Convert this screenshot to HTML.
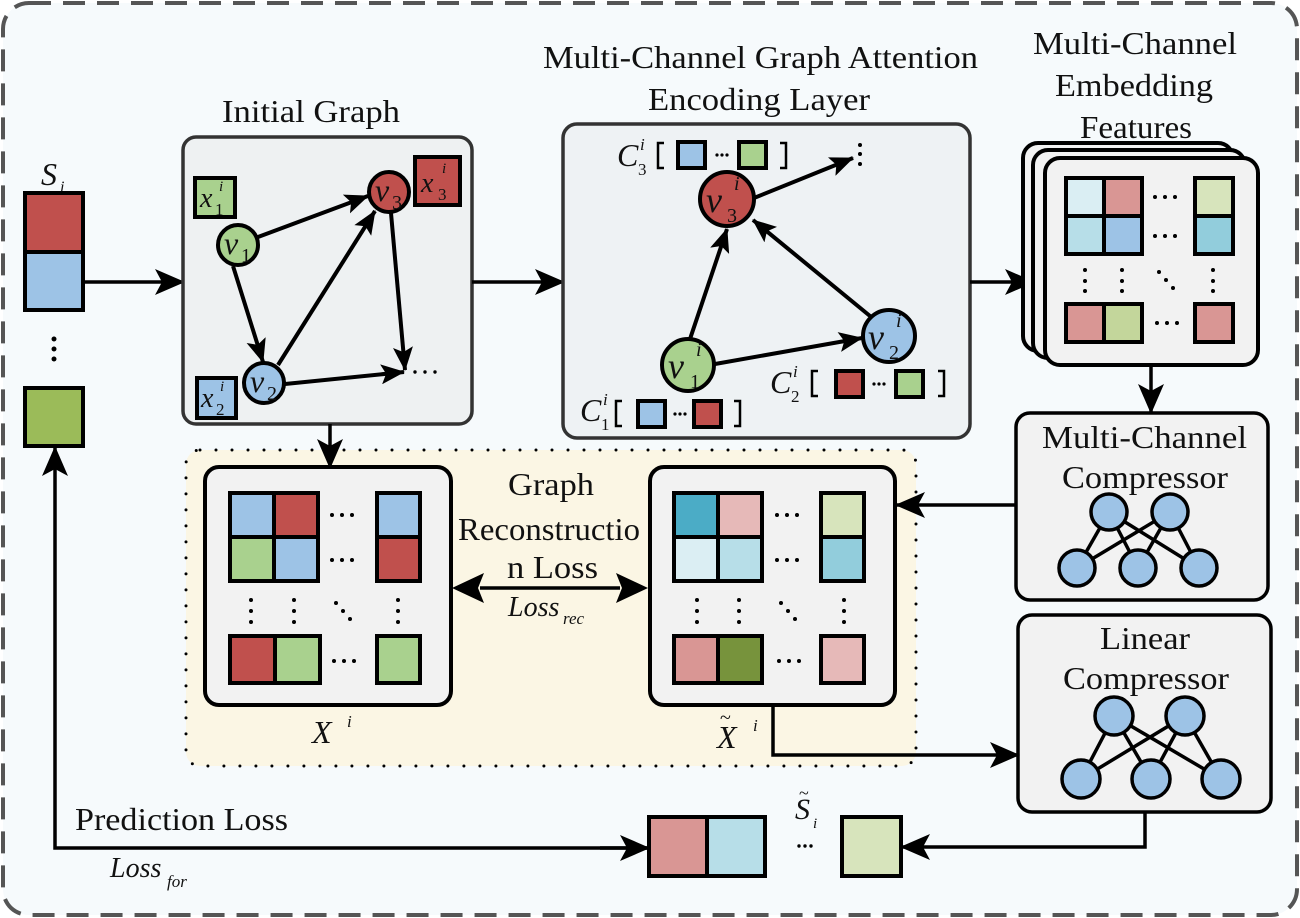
<!DOCTYPE html>
<html><head><meta charset="utf-8"><style>
html,body{margin:0;padding:0;background:#fff}
svg{display:block}
text{font-family:"Liberation Serif",serif;fill:#111}
.t{font-size:32px}
.m{font-style:italic}
</style></head><body>
<svg width="1300" height="918" viewBox="0 0 1300 918" xmlns="http://www.w3.org/2000/svg">
<defs>
<marker id="a" markerUnits="userSpaceOnUse" markerWidth="30" markerHeight="26" refX="28" refY="13" orient="auto">
<path d="M0,0 L30,13 L0,26 L7,13 z" fill="#000"/>
</marker>
<marker id="s" markerUnits="userSpaceOnUse" markerWidth="24" markerHeight="20" refX="23" refY="10" orient="auto">
<path d="M0,0 L24,10 L0,20 L5,10 z" fill="#000"/>
</marker>
</defs>
<rect x="3" y="3" width="1294" height="912" rx="26" fill="#f6fafc" stroke="#555" stroke-width="4" stroke-dasharray="22,12"/>

<!-- titles -->
<text class="t" x="222" y="122" textLength="178" lengthAdjust="spacingAndGlyphs">Initial Graph</text>
<text class="t" x="543" y="68" textLength="435" lengthAdjust="spacingAndGlyphs">Multi-Channel Graph Attention</text>
<text class="t" x="648" y="110" textLength="222" lengthAdjust="spacingAndGlyphs">Encoding Layer</text>
<text class="t" x="1033" y="54" textLength="204" lengthAdjust="spacingAndGlyphs">Multi-Channel</text>
<text class="t" x="1055" y="96" textLength="158" lengthAdjust="spacingAndGlyphs">Embedding</text>
<text class="t" x="1080" y="138" textLength="112" lengthAdjust="spacingAndGlyphs">Features</text>

<!-- S_i -->
<text class="m" x="41" y="185" font-size="32">S</text><text class="m" x="60" y="192" font-size="16">i</text>
<g stroke="#000" stroke-width="4">
<rect x="25" y="193" width="58" height="59" fill="#c0504d"/>
<rect x="25" y="252" width="58" height="58" fill="#9dc3e6"/>
<rect x="25" y="388" width="58" height="58" fill="#9bbb59"/>
</g>
<g fill="#000"><circle cx="54" cy="339" r="2.5"/><circle cx="54" cy="349" r="2.5"/><circle cx="54" cy="359" r="2.5"/></g>
<line x1="83" y1="282" x2="183" y2="282" stroke="#000" stroke-width="3.5" marker-end="url(#a)"/>

<!-- dotted region -->
<rect x="186" y="450" width="730" height="316" rx="14" fill="#fbf6e4" stroke="#000" stroke-width="3" stroke-dasharray="0,16" stroke-linecap="round"/>

<!-- Initial graph -->
<rect x="183" y="137" width="289" height="287" rx="13" fill="#eef1f2" stroke="#333" stroke-width="3.5"/>
<g stroke="#000" stroke-width="4">
<rect x="195" y="178" width="40" height="39" fill="#a9d18e"/>
<rect x="415" y="157" width="45" height="48" fill="#c0504d"/>
<rect x="197" y="378" width="39" height="40" fill="#9dc3e6"/>
</g>
<g stroke="#000" stroke-width="4" fill="none">
<line x1="258" y1="237" x2="368" y2="196" marker-end="url(#s)"/>
<line x1="233" y1="266" x2="263" y2="362" marker-end="url(#s)"/>
<line x1="278" y1="365" x2="375" y2="211" marker-end="url(#s)"/>
<line x1="391" y1="213" x2="405" y2="370" marker-end="url(#s)"/>
<line x1="285" y1="384" x2="404" y2="372" marker-end="url(#s)"/>
</g>
<g stroke="#000" stroke-width="4">
<circle cx="238" cy="245" r="20" fill="#a9d18e"/>
<circle cx="389" cy="192" r="20" fill="#c0504d"/>
<circle cx="264" cy="383" r="20" fill="#9dc3e6"/>
</g>
<g class="m" font-size="32">
<text x="224" y="254">v</text><text x="241" y="262" font-size="20" font-style="normal">1</text>
<text x="375" y="201">v</text><text x="392" y="209" font-size="20" font-style="normal">3</text>
<text x="250" y="392">v</text><text x="267" y="400" font-size="20" font-style="normal">2</text>
<text x="200" y="207" font-size="28">x</text><text x="219" y="191" font-size="15">i</text><text x="215" y="215" font-size="17" font-style="normal">1</text>
<text x="421" y="192" font-size="28">x</text><text x="442" y="173" font-size="15">i</text><text x="438" y="200" font-size="17" font-style="normal">3</text>
<text x="201" y="407" font-size="28">x</text><text x="220" y="391" font-size="15">i</text><text x="216" y="415" font-size="17" font-style="normal">2</text>
</g>
<g fill="#000"><circle cx="415" cy="372" r="1.7"/><circle cx="425" cy="372" r="1.7"/><circle cx="435" cy="372" r="1.7"/></g>
<line x1="472" y1="282" x2="563" y2="282" stroke="#000" stroke-width="3.5" marker-end="url(#a)"/>

<!-- Encoding layer -->
<rect x="563" y="124" width="407" height="314" rx="14" fill="#eef2f4" stroke="#333" stroke-width="3.5"/>
<g stroke="#000" stroke-width="4" fill="none">
<line x1="754" y1="198" x2="853" y2="158" marker-end="url(#s)"/>
<line x1="690" y1="339" x2="727" y2="229" marker-end="url(#s)"/>
<line x1="870" y1="316" x2="753" y2="220" marker-end="url(#s)"/>
<line x1="715" y1="364" x2="862" y2="338" marker-end="url(#s)"/>
</g>
<g stroke="#000" stroke-width="4">
<circle cx="727" cy="199" r="27" fill="#c0504d"/>
<circle cx="688" cy="365" r="26" fill="#a9d18e"/>
<circle cx="889" cy="336" r="26" fill="#9dc3e6"/>
</g>
<g fill="#000"><circle cx="860" cy="145" r="2"/><circle cx="860" cy="154" r="2"/><circle cx="860" cy="164" r="2"/></g>
<g class="m" font-size="36">
<text x="706" y="212">v</text><text x="734" y="190" font-size="20">i</text><text x="727" y="222" font-size="20" font-style="normal">3</text>
<text x="668" y="378">v</text><text x="696" y="356" font-size="20">i</text><text x="690" y="388" font-size="20" font-style="normal">1</text>
<text x="868" y="349">v</text><text x="896" y="327" font-size="20">i</text><text x="889" y="359" font-size="20" font-style="normal">2</text>
<text x="617" y="166" font-size="32">C</text><text x="640" y="150" font-size="17">i</text><text x="638" y="175" font-size="17" font-style="normal">3</text>
<text x="770" y="393" font-size="32">C</text><text x="793" y="377" font-size="17">i</text><text x="791" y="402" font-size="17" font-style="normal">2</text>
<text x="580" y="421" font-size="32">C</text><text x="603" y="405" font-size="17">i</text><text x="601" y="430" font-size="17" font-style="normal">1</text>
</g>
<g stroke="#000" stroke-width="2.5" fill="none">
<path d="M664,143 h-6 v25 h6"/><path d="M780,143 h6 v25 h-6"/>
<path d="M818,371 h-6 v25 h6"/><path d="M938,371 h6 v25 h-6"/>
<path d="M622,401 h-6 v25 h6"/><path d="M734,401 h6 v25 h-6"/>
</g>
<g stroke="#000" stroke-width="4">
<rect x="678" y="142" width="27" height="26" fill="#9dc3e6"/><rect x="739" y="142" width="27" height="26" fill="#a9d18e"/>
<rect x="836" y="371" width="27" height="26" fill="#c0504d"/><rect x="896" y="371" width="27" height="26" fill="#a9d18e"/>
<rect x="638" y="401" width="27" height="26" fill="#9dc3e6"/><rect x="694" y="401" width="27" height="26" fill="#c0504d"/>
</g>
<g fill="#000"><circle cx="717" cy="155" r="1.6"/><circle cx="722" cy="155" r="1.6"/><circle cx="727" cy="155" r="1.6"/>
<circle cx="874" cy="384" r="1.6"/><circle cx="879" cy="384" r="1.6"/><circle cx="884" cy="384" r="1.6"/>
<circle cx="675" cy="414" r="1.6"/><circle cx="680" cy="414" r="1.6"/><circle cx="685" cy="414" r="1.6"/></g>
<line x1="970" y1="282" x2="1033" y2="282" stroke="#000" stroke-width="3.5" marker-end="url(#a)"/>

<!-- Features stack -->
<g stroke="#000" stroke-width="4" fill="#f2f2f2">
<rect x="1023" y="143" width="210" height="208" rx="15"/>
<rect x="1033" y="150" width="212" height="208" rx="15"/>
<rect x="1045" y="158" width="213" height="207" rx="15"/>
</g>
<g stroke="#000" stroke-width="4">
<rect x="1066" y="178" width="38" height="38" fill="#daeef3"/><rect x="1104" y="178" width="38" height="38" fill="#d99694"/>
<rect x="1066" y="216" width="38" height="38" fill="#b7dee8"/><rect x="1104" y="216" width="38" height="38" fill="#9dc3e6"/>
<rect x="1195" y="178" width="38" height="38" fill="#d7e4bc"/><rect x="1195" y="216" width="38" height="38" fill="#92cddc"/>
<rect x="1066" y="304" width="38" height="38" fill="#d99694"/><rect x="1104" y="304" width="38" height="38" fill="#c3d69b"/>
<rect x="1195" y="304" width="38" height="38" fill="#d99694"/>
</g>
<g fill="#000">
<circle cx="1155" cy="197" r="2"/><circle cx="1165" cy="197" r="2"/><circle cx="1175" cy="197" r="2"/>
<circle cx="1155" cy="236" r="2"/><circle cx="1165" cy="236" r="2"/><circle cx="1175" cy="236" r="2"/>
<circle cx="1157" cy="323" r="2"/><circle cx="1167" cy="323" r="2"/><circle cx="1177" cy="323" r="2"/>
<circle cx="1085" cy="270" r="2"/><circle cx="1085" cy="281" r="2"/><circle cx="1085" cy="291" r="2"/>
<circle cx="1122" cy="270" r="2"/><circle cx="1122" cy="281" r="2"/><circle cx="1122" cy="291" r="2"/>
<circle cx="1213" cy="270" r="2"/><circle cx="1213" cy="281" r="2"/><circle cx="1213" cy="291" r="2"/>
<circle cx="1159" cy="272" r="2"/><circle cx="1166" cy="280" r="2"/><circle cx="1173" cy="288" r="2"/>
</g>
<line x1="1151" y1="365" x2="1151" y2="412" stroke="#000" stroke-width="3.5" marker-end="url(#a)"/>

<!-- Compressors -->
<rect x="1016" y="413" width="252" height="187" rx="14" fill="#f2f2f2" stroke="#000" stroke-width="3.5"/>
<text class="t" x="1042" y="448" textLength="205" lengthAdjust="spacingAndGlyphs">Multi-Channel</text>
<text class="t" x="1062" y="488" textLength="166" lengthAdjust="spacingAndGlyphs">Compressor</text>
<g stroke="#000" stroke-width="3.5">
<line x1="1109" y1="512" x2="1077" y2="568"/><line x1="1109" y1="512" x2="1138" y2="568"/><line x1="1109" y1="512" x2="1199" y2="568"/>
<line x1="1170" y1="512" x2="1077" y2="568"/><line x1="1170" y1="512" x2="1138" y2="568"/><line x1="1170" y1="512" x2="1199" y2="568"/>
<g fill="#9dc3e6"><circle cx="1109" cy="512" r="18"/><circle cx="1170" cy="512" r="18"/><circle cx="1077" cy="568" r="18"/><circle cx="1138" cy="568" r="18"/><circle cx="1199" cy="568" r="18"/></g>
</g>
<rect x="1018" y="615" width="253" height="197" rx="14" fill="#f2f2f2" stroke="#000" stroke-width="3.5"/>
<text class="t" x="1100" y="649" textLength="90" lengthAdjust="spacingAndGlyphs">Linear</text>
<text class="t" x="1063" y="689" textLength="166" lengthAdjust="spacingAndGlyphs">Compressor</text>
<g stroke="#000" stroke-width="3.5">
<line x1="1114" y1="716" x2="1081" y2="779"/><line x1="1114" y1="716" x2="1151" y2="779"/><line x1="1114" y1="716" x2="1221" y2="779"/>
<line x1="1185" y1="716" x2="1081" y2="779"/><line x1="1185" y1="716" x2="1151" y2="779"/><line x1="1185" y1="716" x2="1221" y2="779"/>
<g fill="#9dc3e6"><circle cx="1114" cy="716" r="19"/><circle cx="1185" cy="716" r="19"/><circle cx="1081" cy="779" r="19"/><circle cx="1151" cy="779" r="19"/><circle cx="1221" cy="779" r="19"/></g>
</g>

<!-- matrices -->
<line x1="330" y1="424" x2="330" y2="467" stroke="#000" stroke-width="3.5" marker-end="url(#a)"/>
<rect x="205" y="467" width="246" height="238" rx="14" fill="#f2f2f2" stroke="#000" stroke-width="4"/>
<rect x="650" y="467" width="245" height="238" rx="14" fill="#f2f2f2" stroke="#000" stroke-width="4"/>
<g stroke="#000" stroke-width="4">
<rect x="230" y="493" width="44" height="44" fill="#9dc3e6"/><rect x="274" y="493" width="44" height="44" fill="#c0504d"/>
<rect x="230" y="537" width="44" height="44" fill="#a9d18e"/><rect x="274" y="537" width="44" height="44" fill="#9dc3e6"/>
<rect x="377" y="493" width="43" height="44" fill="#9dc3e6"/><rect x="377" y="537" width="43" height="44" fill="#c0504d"/>
<rect x="230" y="636" width="45" height="47" fill="#c0504d"/><rect x="275" y="636" width="45" height="47" fill="#a9d18e"/>
<rect x="377" y="636" width="43" height="47" fill="#a9d18e"/>
<rect x="674" y="493" width="44" height="44" fill="#4bacc6"/><rect x="718" y="493" width="44" height="44" fill="#e6b9b8"/>
<rect x="674" y="537" width="44" height="44" fill="#dbeef3"/><rect x="718" y="537" width="44" height="44" fill="#b7dee8"/>
<rect x="821" y="493" width="43" height="44" fill="#d7e4bc"/><rect x="821" y="537" width="43" height="44" fill="#92cddc"/>
<rect x="674" y="636" width="44" height="47" fill="#d99694"/><rect x="718" y="636" width="44" height="47" fill="#77933c"/>
<rect x="821" y="636" width="43" height="47" fill="#e6b9b8"/>
</g>
<g fill="#000">
<circle cx="332" cy="515" r="2"/><circle cx="342" cy="515" r="2"/><circle cx="352" cy="515" r="2"/>
<circle cx="332" cy="560" r="2"/><circle cx="342" cy="560" r="2"/><circle cx="352" cy="560" r="2"/>
<circle cx="334" cy="661" r="2"/><circle cx="344" cy="661" r="2"/><circle cx="354" cy="661" r="2"/>
<circle cx="251" cy="600" r="2"/><circle cx="251" cy="611" r="2"/><circle cx="251" cy="622" r="2"/>
<circle cx="294" cy="600" r="2"/><circle cx="294" cy="611" r="2"/><circle cx="294" cy="622" r="2"/>
<circle cx="398" cy="600" r="2"/><circle cx="398" cy="611" r="2"/><circle cx="398" cy="622" r="2"/>
<circle cx="336" cy="603" r="2"/><circle cx="343" cy="611" r="2"/><circle cx="350" cy="619" r="2"/>
<circle cx="777" cy="515" r="2"/><circle cx="787" cy="515" r="2"/><circle cx="797" cy="515" r="2"/>
<circle cx="777" cy="560" r="2"/><circle cx="787" cy="560" r="2"/><circle cx="797" cy="560" r="2"/>
<circle cx="779" cy="661" r="2"/><circle cx="789" cy="661" r="2"/><circle cx="799" cy="661" r="2"/>
<circle cx="697" cy="600" r="2"/><circle cx="697" cy="611" r="2"/><circle cx="697" cy="622" r="2"/>
<circle cx="739" cy="600" r="2"/><circle cx="739" cy="611" r="2"/><circle cx="739" cy="622" r="2"/>
<circle cx="844" cy="600" r="2"/><circle cx="844" cy="611" r="2"/><circle cx="844" cy="622" r="2"/>
<circle cx="781" cy="603" r="2"/><circle cx="788" cy="611" r="2"/><circle cx="795" cy="619" r="2"/>
</g>
<text class="m" x="312" y="743" font-size="32">X</text><text class="m" x="347" y="727" font-size="17">i</text>
<text class="m" x="717" y="748" font-size="32">X</text><text x="720" y="724" font-size="20">~</text><text class="m" x="753" y="731" font-size="17">i</text>

<text class="t" x="508" y="495" textLength="86" lengthAdjust="spacingAndGlyphs">Graph</text>
<text class="t" x="458" y="540" textLength="182" lengthAdjust="spacingAndGlyphs">Reconstructio</text>
<text class="t" x="507" y="578" textLength="91" lengthAdjust="spacingAndGlyphs">n Loss</text>
<text class="m" x="508" y="616" font-size="28">Loss</text><text class="m" x="563" y="624" font-size="17">rec</text>
<line x1="480" y1="588" x2="620" y2="588" stroke="#000" stroke-width="3.5"/>
<path d="M452,588 L484,573 L478,588 L484,603 z M648,588 L616,573 L622,588 L616,603 z" fill="#000"/>

<line x1="1016" y1="505" x2="897" y2="505" stroke="#000" stroke-width="3.5" marker-end="url(#a)"/>
<polyline points="773,705 773,755 1018,755" fill="none" stroke="#000" stroke-width="3.5" marker-end="url(#a)"/>

<!-- prediction -->
<polyline points="1145,812 1145,847 902,847" fill="none" stroke="#000" stroke-width="3.5" marker-end="url(#a)"/>
<polyline points="648,848 55,848 55,448" fill="none" stroke="#000" stroke-width="3.5" marker-end="url(#a)"/>
<line x1="600" y1="848" x2="648" y2="848" stroke="#000" stroke-width="3.5" marker-end="url(#a)"/>
<g stroke="#000" stroke-width="4">
<rect x="649" y="817" width="58" height="59" fill="#d99694"/><rect x="707" y="817" width="58" height="59" fill="#b7dee8"/>
<rect x="842" y="817" width="59" height="59" fill="#d7e4bc"/>
</g>
<text class="m" x="795" y="819" font-size="30">S</text><text x="799" y="799" font-size="18">~</text><text class="m" x="813" y="828" font-size="15">i</text>
<g fill="#000"><circle cx="799" cy="846" r="1.7"/><circle cx="805" cy="846" r="1.7"/><circle cx="811" cy="846" r="1.7"/></g>
<text class="t" x="75" y="830" textLength="213" lengthAdjust="spacingAndGlyphs">Prediction Loss</text>
<text class="m" x="110" y="877" font-size="28">Loss</text><text class="m" x="167" y="887" font-size="17">for</text>
</svg>
</body></html>
